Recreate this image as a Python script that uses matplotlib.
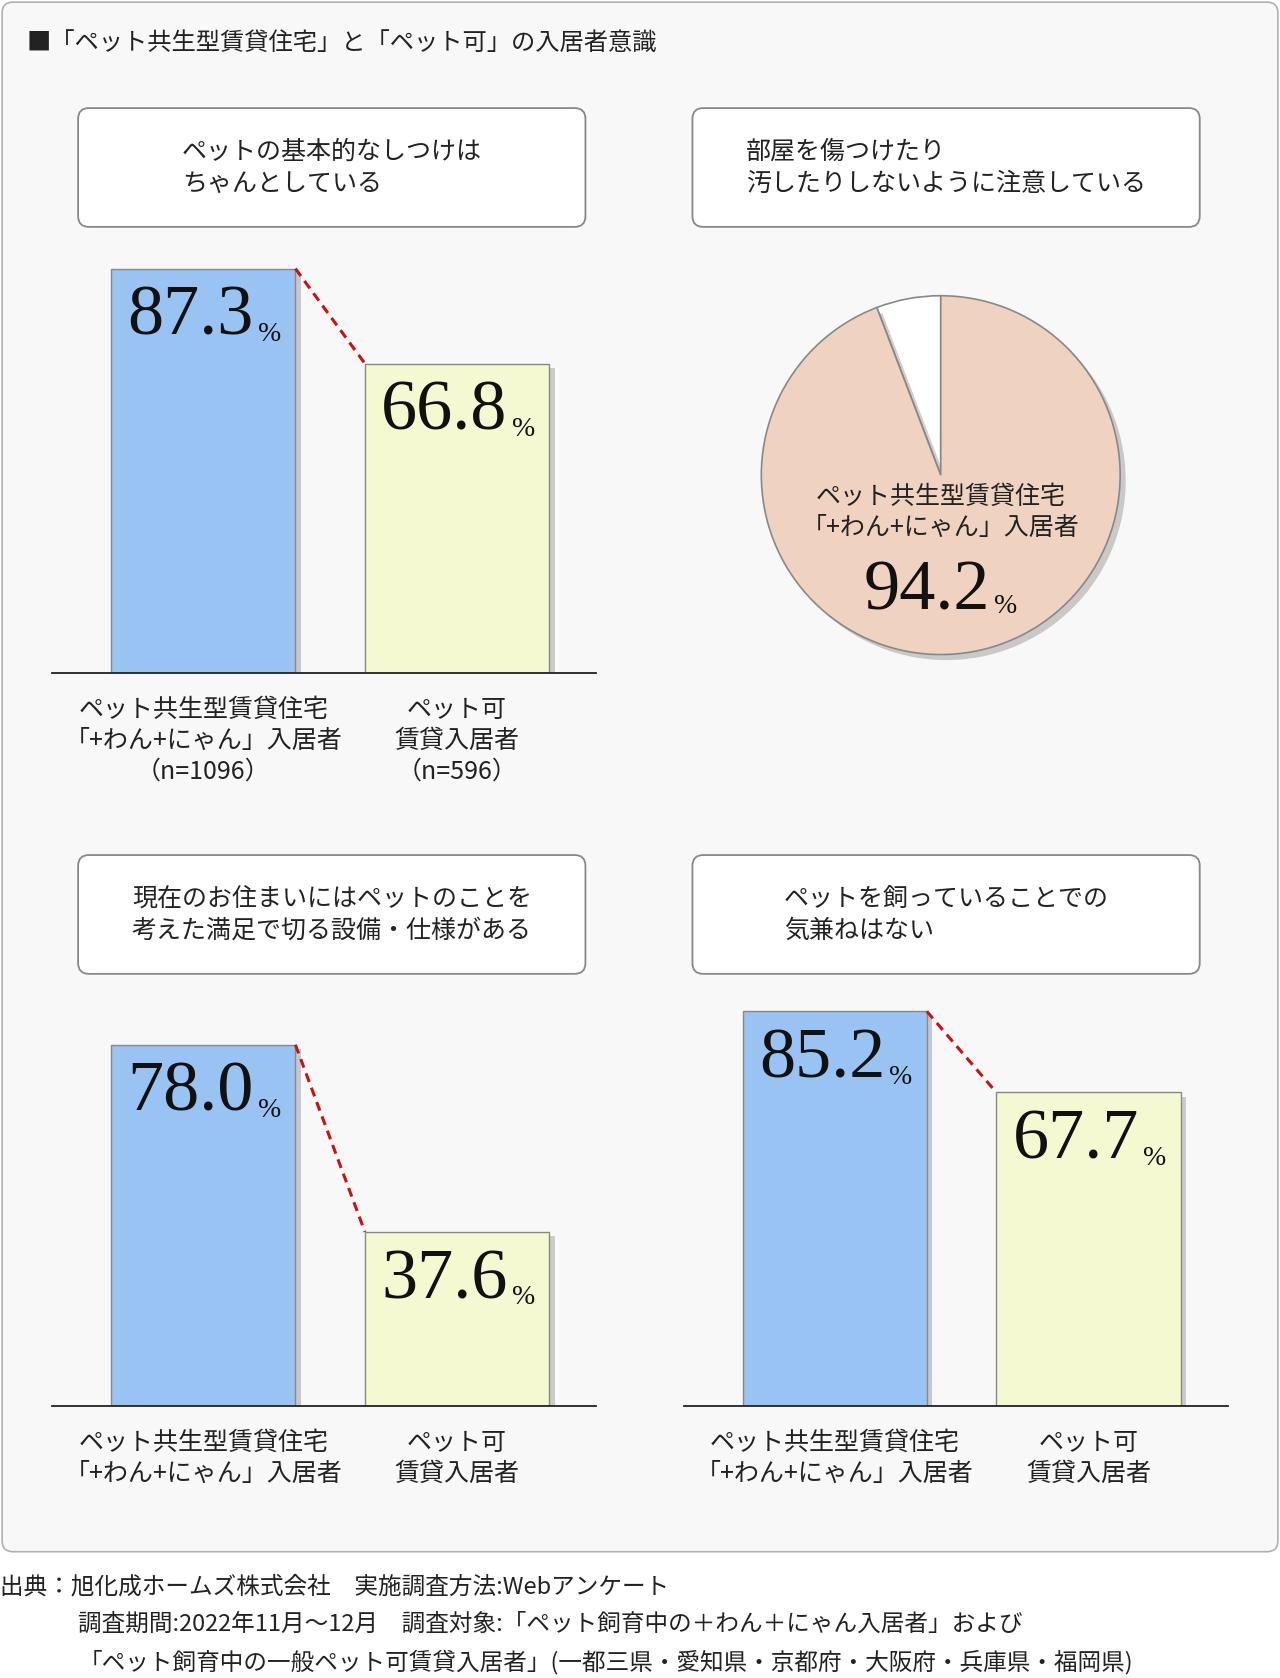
import matplotlib
matplotlib.use("Agg")
from matplotlib import pyplot as plt
from matplotlib.patches import FancyBboxPatch
import matplotlib.patheffects as pe

plt.rcParams["font.family"] = ["Noto Sans CJK JP", "DejaVu Sans"]

# data
title = "■「ペット共生型賃貸住宅」と「ペット可」の入居者意識"
questions = ["ペットの基本的なしつけは\nちゃんとしている",
             "部屋を傷つけたり\n汚したりしないように注意している",
             "現在のお住まいにはペットのことを\n考えた満足で切る設備・仕様がある",
             "ペットを飼っていることでの\n気兼ねはない"]
cat_a = "ペット共生型賃貸住宅\n「+わん+にゃん」入居者"
cat_b = "ペット可\n賃貸入居者"
n_a, n_b = "（n=1096）", "（n=596）"
vals_q1 = [87.3, 66.8]
vals_q3 = [78.0, 37.6]
vals_q4 = [85.2, 67.7]
pie_val = 94.2
source = ["出典：旭化成ホームズ株式会社　実施調査方法:Webアンケート",
          "調査期間:2022年11月～12月　調査対象:「ペット飼育中の＋わん＋にゃん入居者」および",
          "「ペット飼育中の一般ペット可賃貸入居者」(一都三県・愛知県・京都府・大阪府・兵庫県・福岡県)"]

W, H = 1196, 1568
fig = plt.figure(figsize=(12.8, 16.78), dpi=100)
bg = fig.add_axes([0, 0, 1, 1])
bg.set_xlim(0, W); bg.set_ylim(H, 0); bg.axis("off")

bg.add_patch(FancyBboxPatch((2, 2), 1192, 1448, boxstyle="round,pad=0,rounding_size=10",
                            fc="#f8f8f8", ec="#b0b0b0", lw=1.2))
bg.text(25, 40, title, fontsize=17.5, va="center", color="#222")

def qbox(x0, y0, text):
    bg.add_patch(FancyBboxPatch((x0, y0), 474, 111, boxstyle="round,pad=0,rounding_size=10",
                                fc="white", ec="#888", lw=1.3))
    bg.text(x0 + 237, y0 + 56, text, fontsize=18, ha="center", va="center",
            color="#222", linespacing=1.3, multialignment="left")

qbox(73, 101, questions[0])
qbox(647, 101, questions[1])
qbox(73, 799, questions[2])
qbox(647, 799, questions[3])

def ax_px(x0, y0, x1, y1):
    return fig.add_axes([x0 / W, 1 - y1 / H, (x1 - x0) / W, (y1 - y0) / H])

def bar_chart(xl, base, vals, ns=None):
    ax = ax_px(xl, base - 433, xl + 508, base)
    c_a = xl + 141
    ax.set_xlim((xl - c_a) / 237, (xl + 508 - c_a) / 237)
    ax.set_ylim(0, 100)
    ax.patch.set_alpha(0)
    w = 0.726
    shadow = [pe.SimplePatchShadow(offset=(4, -3), alpha=0.25), pe.Normal()]
    bars = ax.bar([0, 1], vals, width=w, color=["#99c3f2", "#f4f9d2"],
                  edgecolor="#888", lw=1, zorder=2)
    for b in bars:
        b.set_path_effects(shadow)
    ax.plot([w / 2, 1 - w / 2], vals, ls=(0, (3, 2)), color="#cc1111", lw=2.2, zorder=3)
    for i, v in enumerate(vals):
        t = ax.text(i - 0.05, v - 3.5, f"{v:.1f}", fontsize=52, family="Liberation Serif",
                    ha="center", va="top", color="#111")
        ax.annotate("%", xy=(1, 0), xycoords=t, xytext=(3, 2), textcoords="offset points",
                    fontsize=20, family="Liberation Serif", va="bottom", color="#111")
    for s in ["top", "right", "left"]:
        ax.spines[s].set_visible(False)
    ax.spines["bottom"].set_color("#222")
    ax.spines["bottom"].set_linewidth(1.3)
    ax.set_xticks([]); ax.set_yticks([])
    ta = cat_a + ("\n" + n_a if ns else "")
    tb = cat_b + ("\n" + n_b if ns else "")
    bg.text(xl + 141, base + 22, ta, fontsize=18, ha="center", va="top",
            color="#222", linespacing=1.25)
    bg.text(xl + 378, base + 22, tb, fontsize=18, ha="center", va="top",
            color="#222", linespacing=1.25)

bar_chart(49, 629, vals_q1, ns=True)
bar_chart(49, 1314, vals_q3)
bar_chart(639, 1314, vals_q4)

# pie
r = 171
pax = ax_px(879 - r, 444 - r, 879 + r, 444 + r)
wedges, _ = pax.pie([100 - pie_val, pie_val], colors=["white", "#efd3c0"], startangle=90,
                    counterclock=True, radius=1, frame=False,
                    wedgeprops=dict(edgecolor="#888", lw=1.2))
pax.set_xlim(-1.02, 1.02); pax.set_ylim(-1.02, 1.02)
pax.set_aspect("equal"); pax.axis("off")
for wd in wedges:
    wd.set_path_effects([pe.SimplePatchShadow(offset=(4, -4), alpha=0.25), pe.Normal()])
pax.text(879, 479, "ペット共生型賃貸住宅\n「+わん+にゃん」入居者", fontsize=18,
         ha="center", va="center", color="#222", linespacing=1.25,
         transform=bg.transData, zorder=5)
t = pax.text(866, 570, f"{pie_val:.1f}", fontsize=52, family="Liberation Serif",
             ha="center", va="baseline", color="#111", transform=bg.transData, zorder=5)
pax.annotate("%", xy=(1, 0), xycoords=t, xytext=(3, 4), textcoords="offset points",
             fontsize=20, family="Liberation Serif", va="bottom", color="#111", zorder=5)

bg.text(0, 1483, source[0], fontsize=17, va="center", color="#222")
bg.text(73, 1518, source[1], fontsize=17, va="center", color="#222")
bg.text(73, 1553, source[2], fontsize=17, va="center", color="#222")

fig.savefig("out.png", dpi=100)
